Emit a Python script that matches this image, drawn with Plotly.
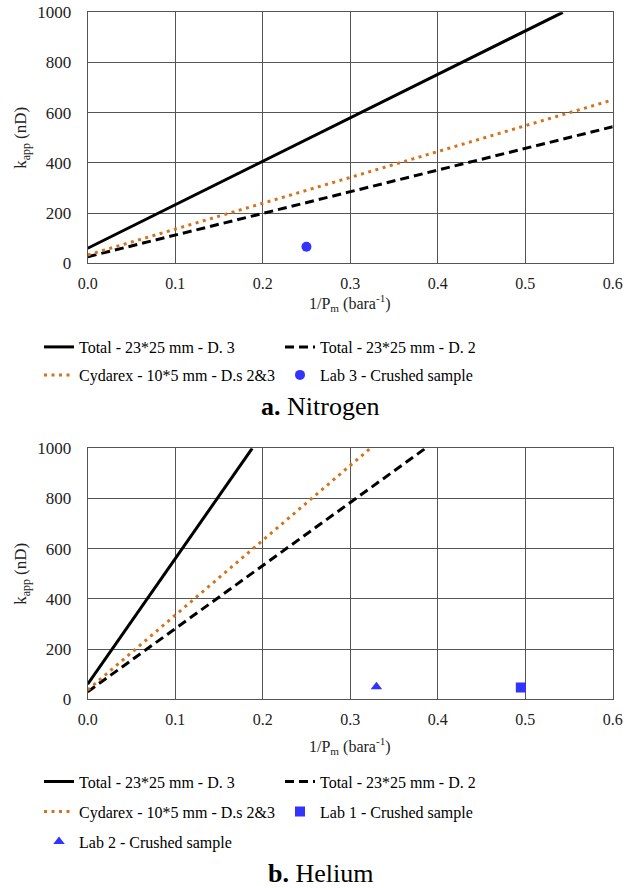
import plotly.graph_objects as go

# ---------------- data ----------------
# a. Nitrogen
n2_total_d3_x = [0.0, 0.543]
n2_total_d3_y = [60, 1000]
n2_total_d2_x = [0.0, 0.6]
n2_total_d2_y = [26, 544]
n2_cydarex_x = [0.0, 0.6]
n2_cydarex_y = [33, 651]
n2_lab3_x = [0.25]
n2_lab3_y = [66]

# b. Helium
he_total_d3_x = [0.0, 0.188]
he_total_d3_y = [60, 1000]
he_total_d2_x = [0.0, 0.386]
he_total_d2_y = [30, 1000]
he_cydarex_x = [0.0, 0.323]
he_cydarex_y = [37, 1000]
he_lab1_x = [0.495]
he_lab1_y = [47]
he_lab2_x = [0.33]
he_lab2_y = [50]

names = {
    "d3": "Total - 23*25 mm - D. 3",
    "d2": "Total - 23*25 mm - D. 2",
    "cyd": "Cydarex - 10*5 mm - D.s 2&3",
    "lab3": "Lab 3 - Crushed sample",
    "lab1": "Lab 1 - Crushed sample",
    "lab2": "Lab 2 - Crushed sample",
}
captions = ["<b>a.</b> Nitrogen", "<b>b.</b> Helium"]
x_title = "1/P<sub>m</sub> (bara<sup>-1</sup>)"
y_title = "k<sub>app</sub> (nD)"

# ---------------- styling ----------------
W, H = 635, 888
FONT = "Times New Roman"
ORANGE = "#D4731C"
BLUE = "#3333FF"
GRID = "#555555"


def fx(p):
    return p / W


def fy(p):
    return 1 - p / H


fig = go.Figure()

solid = dict(color="black", width=3)
dashed = dict(color="black", width=3, dash="9px,5px")
dotted = dict(color=ORANGE, width=3, dash="3px,4.5px")

# Nitrogen traces
fig.add_trace(go.Scatter(x=n2_total_d3_x, y=n2_total_d3_y, mode="lines", line=solid,
                         name=names["d3"], xaxis="x", yaxis="y", legend="legend"))
fig.add_trace(go.Scatter(x=n2_total_d2_x, y=n2_total_d2_y, mode="lines", line=dashed,
                         name=names["d2"], xaxis="x", yaxis="y", legend="legend"))
fig.add_trace(go.Scatter(x=n2_cydarex_x, y=n2_cydarex_y, mode="lines", line=dotted,
                         name=names["cyd"], xaxis="x", yaxis="y", legend="legend2"))
fig.add_trace(go.Scatter(x=n2_lab3_x, y=n2_lab3_y, mode="markers",
                         marker=dict(symbol="circle", size=10, color=BLUE),
                         name=names["lab3"], xaxis="x", yaxis="y", legend="legend2"))

# Helium traces
fig.add_trace(go.Scatter(x=he_total_d3_x, y=he_total_d3_y, mode="lines", line=solid,
                         name=names["d3"], xaxis="x2", yaxis="y2", legend="legend3"))
fig.add_trace(go.Scatter(x=he_total_d2_x, y=he_total_d2_y, mode="lines", line=dashed,
                         name=names["d2"], xaxis="x2", yaxis="y2", legend="legend3"))
fig.add_trace(go.Scatter(x=he_cydarex_x, y=he_cydarex_y, mode="lines", line=dotted,
                         name=names["cyd"], xaxis="x2", yaxis="y2", legend="legend4"))
fig.add_trace(go.Scatter(x=he_lab1_x, y=he_lab1_y, mode="markers",
                         marker=dict(symbol="square", size=10, color=BLUE),
                         name=names["lab1"], xaxis="x2", yaxis="y2", legend="legend4"))
fig.add_trace(go.Scatter(x=he_lab2_x, y=he_lab2_y, mode="markers",
                         marker=dict(symbol="triangle-up", size=10, color=BLUE),
                         name=names["lab2"], xaxis="x2", yaxis="y2", legend="legend5"))

x_dom = [fx(87.7), fx(612.7)]
panels = [(12.3, 263.3), (448.3, 699.3)]

common_x = dict(range=[0, 0.6], dtick=0.1, tick0=0, tickformat=".1f", showgrid=True,
                gridcolor=GRID, gridwidth=1, showline=True, linecolor=GRID, linewidth=1,
                mirror=True, zeroline=False, ticks="", ticklabelstandoff=5,
                tickfont=dict(family=FONT, size=16, color="#222"), fixedrange=True)
common_y = dict(range=[0, 1000], dtick=200, tick0=0, showgrid=True,
                gridcolor=GRID, gridwidth=1, showline=True, linecolor=GRID, linewidth=1,
                mirror=True, zeroline=False, ticks="", ticklabelstandoff=12,
                tickfont=dict(family=FONT, size=17, color="#222"), fixedrange=True)

legend_common = dict(orientation="h", xanchor="left", yanchor="middle",
                     font=dict(family=FONT, size=16, color="black"),
                     bgcolor="rgba(0,0,0,0)", entrywidth=196, entrywidthmode="pixels",
                     itemwidth=30, traceorder="normal")
lx = fx(39)

fig.update_layout(
    width=W, height=H,
    margin=dict(l=0, r=0, t=0, b=0, autoexpand=False),
    paper_bgcolor="white", plot_bgcolor="white",
    font=dict(family=FONT, color="black"),
    xaxis=dict(domain=x_dom, anchor="y", **common_x),
    yaxis=dict(domain=[fy(panels[0][1]), fy(panels[0][0])], anchor="x", **common_y),
    xaxis2=dict(domain=x_dom, anchor="y2", **common_x),
    yaxis2=dict(domain=[fy(panels[1][1]), fy(panels[1][0])], anchor="x2", **common_y),
    legend=dict(x=lx, y=fy(347), **legend_common),
    legend2=dict(x=lx, y=fy(375), **legend_common),
    legend3=dict(x=lx, y=fy(781.7), **legend_common),
    legend4=dict(x=lx, y=fy(811.7), **legend_common),
    legend5=dict(x=lx, y=fy(841.7), **legend_common),
    showlegend=True,
)

ann = []
x_mid = fx((87.7 + 612.7) / 2)
for (top, bot), xt_y in zip(panels, [303, 746]):
    ann.append(dict(text=x_title, x=x_mid, y=fy(xt_y), xref="paper", yref="paper",
                    xanchor="center", yanchor="middle", showarrow=False,
                    font=dict(family=FONT, size=16, color="#222")))
    ann.append(dict(text=y_title, x=fx(22), y=fy((top + bot) / 2), xref="paper", yref="paper",
                    xanchor="center", yanchor="middle", textangle=-90, showarrow=False,
                    font=dict(family=FONT, size=17, color="#222")))
for cap, cy in zip(captions, [406, 873]):
    ann.append(dict(text=cap, x=fx(320), y=fy(cy), xref="paper", yref="paper",
                    xanchor="center", yanchor="middle", showarrow=False,
                    font=dict(family=FONT, size=26, color="black")))
fig.update_layout(annotations=ann)

fig.write_html("out.html")
